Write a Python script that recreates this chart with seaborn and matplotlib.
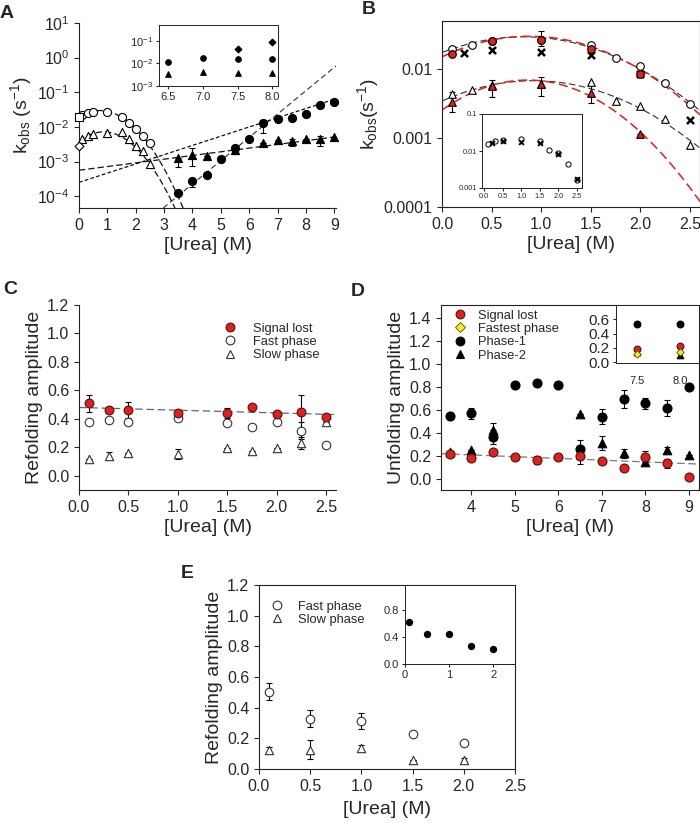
import numpy as np
import matplotlib
matplotlib.use("Agg")
import matplotlib.pyplot as plt
import seaborn as sns
from matplotlib.ticker import FixedLocator, NullLocator, LogFormatterMathtext, FormatStrFormatter
from matplotlib.lines import Line2D

# ---------------- data ----------------
# Panel A (kinetics, log scale)
a_fast_x = [0.1, 0.3, 0.5, 1.0, 1.5, 1.75, 2.0, 2.25, 2.5]
a_fast_y = [0.0216, 0.0245, 0.027, 0.027, 0.0198, 0.0133, 0.0089, 0.0055, 0.0034]
a_slow_x = [0.1, 0.3, 0.5, 1.0, 1.5, 1.75, 2.0, 2.25, 2.5]
a_slow_y = [0.0044, 0.0055, 0.0062, 0.0069, 0.0070, 0.0044, 0.0028, 0.0020, 0.00083]
a_square_x = [0.0]
a_square_y = [0.020]
a_diam_x = [0.0]
a_diam_y = [0.0029]
a_u1_x = [3.5, 4.0, 4.5, 5.0, 5.5, 6.0, 6.5, 7.0, 7.5, 8.0, 8.5, 9.0]
a_u1_y = [1.28e-4, 2.7e-4, 4.2e-4, 1.17e-3, 2.4e-3, 4.4e-3, 0.0126, 0.0173, 0.0185, 0.024, 0.042, 0.054]
a_u1_lo = [0, 0.8e-4, 0, 0, 0.7e-3, 0, 0.006, 0, 0.003, 0.003, 0, 0]
a_u1_hi = [0, 0, 0, 0, 0, 0, 0.003, 0, 0, 0, 0, 0]
a_u2_x = [3.5, 4.0, 4.5, 5.5, 6.5, 7.0, 7.5, 8.0, 8.5, 9.0]
a_u2_y = [1.24e-3, 1.6e-3, 1.42e-3, 2.1e-3, 3.5e-3, 4.2e-3, 3.8e-3, 4.4e-3, 4.4e-3, 5.1e-3]
a_u2_lo = [0.55e-3, 0.85e-3, 0, 0, 0, 0, 0.9e-3, 0, 1.5e-3, 0]
a_u2_hi = [0, 0.9e-3, 0, 0, 0, 0, 0.6e-3, 0, 1.0e-3, 0]
# fit curves (log10 k) anchors
a_fit_fast_x = [0.0, 1.0, 3.67]
a_fit_fast_logy = [-1.70, -1.55, -4.34]
a_fit_slow_x = [0.0, 1.0, 3.38]
a_fit_slow_logy = [-2.40, -2.15, -4.34]
a_line1_x = [0.0, 9.06]
a_line1_logy = [-3.25, -2.285]
a_line2_x = [0.0, 9.06]
a_line2_logy = [-3.60, -1.185]
a_line3_x = [2.97, 9.06]
a_line3_logy = [-4.34, -0.24]
# Panel A inset
ai_x = [6.5, 7.0, 7.5, 8.0]
ai_circ = [0.0118, 0.0166, 0.015, 0.0155]
ai_tri = [0.0034, 0.0043, 0.0039, 0.0036]
ai_dia_x = [7.5, 8.0]
ai_dia = [0.042, 0.09]

# Panel B
b_fast_x = [0.1, 0.3, 0.5, 1.0, 1.5, 1.75, 2.0, 2.25, 2.5]
b_fast_y = [0.0201, 0.023, 0.0257, 0.0266, 0.023, 0.0149, 0.0113, 0.0064, 0.0031]
b_red_x = [0.1, 0.5, 1.0, 1.5, 2.0]
b_red_y = [0.0165, 0.0257, 0.0272, 0.0197, 0.0087]
b_red_lo = [0, 0, 0.005, 0, 0]
b_red_hi = [0, 0, 0.0088, 0, 0]
b_cross_x = [0.22, 0.5, 1.0, 1.5, 2.0, 2.5]
b_cross_y = [0.0174, 0.019, 0.018, 0.0162, 0.0087, 0.00184]
b_slow_x = [0.1, 0.3, 0.5, 1.0, 1.5, 1.75, 2.0, 2.25, 2.5]
b_slow_y = [0.0044, 0.0050, 0.0059, 0.0062, 0.0066, 0.00347, 0.00297, 0.00188, 0.0008]
b_redtri_x = [0.1, 0.5, 1.0, 1.5, 2.0]
b_redtri_y = [0.0034, 0.0057, 0.0061, 0.0046, 0.00115]
b_redtri_lo = [0.0010, 0.0017, 0.0020, 0.0014, 0]
b_redtri_hi = [0.0013, 0.0013, 0.0017, 0.0013, 0]
b_fit_bf_x = [0.0, 0.887, 2.6]
b_fit_bf_logy = [-1.754, -1.527, -2.60]
b_fit_rf_x = [0.0, 0.86, 2.6]
b_fit_rf_logy = [-1.817, -1.518, -2.66]
b_fit_bs_x = [0.0, 0.97, 2.6]
b_fit_bs_logy = [-2.46, -2.165, -3.145]
b_fit_rs_x = [0.0, 0.89, 2.6]
b_fit_rs_logy = [-2.59, -2.155, -3.92]
# Panel B inset
bi_circ_x = [0.1, 0.3, 0.5, 1.0, 1.5, 1.75, 2.0, 2.25, 2.5]
bi_circ_y = [0.0156, 0.0188, 0.0197, 0.0205, 0.0185, 0.0109, 0.0088, 0.0045, 0.0016]
bi_cross_x = [0.22, 0.5, 1.0, 1.5, 2.0, 2.5]
bi_cross_y = [0.0166, 0.0192, 0.0177, 0.0166, 0.0085, 0.0017]

# Panel C
c_x = [0.1, 0.3, 0.5, 1.0, 1.5, 1.75, 2.0, 2.25, 2.5]
c_sig = [0.51, 0.46, 0.46, 0.44, 0.44, 0.48, 0.435, 0.45, 0.415]
c_sig_err = [0.06, 0.0, 0.055, 0.0, 0.035, 0.0, 0.0, 0.12, 0.0]
c_fast = [0.377, 0.393, 0.38, 0.407, 0.37, 0.346, 0.377, 0.316, 0.213]
c_fast_err = [0, 0, 0, 0, 0, 0, 0, 0.06, 0]
c_slow = [0.117, 0.14, 0.16, 0.155, 0.195, 0.175, 0.195, 0.23, 0.377]
c_slow_err = [0, 0.025, 0, 0.035, 0, 0, 0, 0.045, 0]
c_line_x = [0.0, 2.6]
c_line_y = [0.48, 0.43]

# Panel D
d_x = [3.5, 4.0, 4.5, 5.0, 5.5, 6.0, 6.5, 7.0, 7.5, 8.0, 8.5, 9.0]
d_sig = [0.214, 0.185, 0.234, 0.194, 0.165, 0.194, 0.20, 0.156, 0.093, 0.194, 0.136, 0.014]
d_sig_err = [0, 0.03, 0, 0, 0.035, 0, 0.07, 0, 0, 0.05, 0.04, 0]
d_p1 = [0.547, 0.57, 0.367, 0.816, 0.836, 0.816, 0.257, 0.541, 0.694, 0.657, 0.619, 0.801]
d_p1_err = [0, 0.05, 0.06, 0, 0, 0, 0.08, 0.065, 0.08, 0.05, 0.07, 0]
d_p2_x = [3.5, 4.0, 4.5, 6.5, 7.0, 7.5, 8.0, 8.5, 9.0]
d_p2 = [0.237, 0.252, 0.425, 0.561, 0.315, 0.223, 0.15, 0.252, 0.208]
d_p2_err = [0, 0, 0.06, 0, 0.06, 0.04, 0.03, 0.03, 0]
d_line_x = [3.3, 9.23]
d_line_y = [0.22, 0.13]
# Panel D inset
di_x = [7.5, 8.0]
di_p1 = [0.53, 0.54]
di_p2 = [0.15, 0.10]
di_sig = [0.19, 0.225]
di_fast = [0.12, 0.14]

# Panel E
e_x = [0.1, 0.5, 1.0, 1.5, 2.0]
e_fast = [0.503, 0.329, 0.312, 0.227, 0.17]
e_fast_err = [0.055, 0.055, 0.05, 0, 0.02]
e_slow = [0.122, 0.126, 0.14, 0.061, 0.061]
e_slow_err = [0.02, 0.06, 0.015, 0, 0.01]
ei_x = [0.1, 0.5, 1.0, 1.5, 2.0]
ei_y = [0.62, 0.445, 0.445, 0.274, 0.22]

# ---------------- style ----------------
sns.set_theme(style="ticks")
plt.rcParams['font.family'] = ['Liberation Sans', 'DejaVu Sans']
plt.rcParams['mathtext.fontset'] = 'custom'
plt.rcParams['mathtext.rm'] = 'Liberation Sans'
plt.rcParams['mathtext.it'] = 'Liberation Sans:italic'
plt.rcParams['mathtext.default'] = 'regular'
plt.rcParams['axes.linewidth'] = 0.8
plt.rcParams['xtick.major.width'] = 0.8
plt.rcParams['ytick.major.width'] = 0.8
plt.rcParams['xtick.major.size'] = 3.5
plt.rcParams['ytick.major.size'] = 3.5
plt.rcParams['axes.edgecolor'] = '#222222'

RED = '#e0201b'
YEL = '#f2ee1e'
W, H = 700, 823
fig = plt.figure(figsize=(7.0, 8.23), dpi=100)


def add_ax(l, t, r, b):
    return fig.add_axes([l / W, 1 - b / H, (r - l) / W, (b - t) / H])


def pts(ax, x, y, marker, face, s, edge='black', lw=0.8, z=3):
    sns.scatterplot(x=np.asarray(x, float), y=np.asarray(y, float), ax=ax, marker=marker, s=s,
                    color=face, edgecolor=edge, linewidth=lw, zorder=z, legend=False, clip_on=False)


def err(ax, x, y, e, lw=0.8, cap=2.0):
    ax.errorbar(x, y, yerr=e, fmt='none', ecolor='black', elinewidth=lw, capsize=cap,
                capthick=lw, zorder=2)


def logfit(ax, ax_x, ax_logy, x0, x1, color, dashes, lw=0.9, z=1):
    coef = np.polyfit(ax_x, ax_logy, len(ax_x) - 1)
    xs = np.linspace(x0, x1, 300)
    ax.plot(xs, 10 ** np.polyval(coef, xs), color=color, lw=lw, dashes=dashes, zorder=z)


def lin(ax, lx, ly, color, dashes, lw=0.9):
    ax.plot(lx, ly, color=color, lw=lw, dashes=dashes, zorder=1)


TICK_FS = 11.5
LAB_FS = 14
LEG_FS = 9.3

# ---------------- Panel A ----------------
axA = add_ax(79, 23, 336, 208)
axA.set_yscale('log')
logfit(axA, a_fit_fast_x, a_fit_fast_logy, 0, 3.9, '#111111', (5, 2.5))
logfit(axA, a_fit_slow_x, a_fit_slow_logy, 0, 3.6, '#111111', (5, 2.5))
logfit(axA, a_line1_x, a_line1_logy, 0, 9.06, '#111111', (5, 2.5))
logfit(axA, a_line2_x, a_line2_logy, 0, 9.06, '#111111', (3, 1.8))
logfit(axA, a_line3_x, a_line3_logy, 2.97, 9.06, '#333333', (5, 3), lw=0.8)
err(axA, a_u1_x, a_u1_y, [a_u1_lo, a_u1_hi])
err(axA, a_u2_x, a_u2_y, [a_u2_lo, a_u2_hi])
pts(axA, a_fast_x, a_fast_y, 'o', 'white', 34)
pts(axA, a_slow_x, a_slow_y, '^', 'white', 34)
pts(axA, a_square_x, a_square_y, 's', 'white', 26)
pts(axA, a_diam_x, a_diam_y, 'D', 'white', 20)
pts(axA, a_u2_x, a_u2_y, '^', 'black', 34)
pts(axA, a_u1_x, a_u1_y, 'o', 'black', 34)
axA.set_xlim(0, 9.06)
axA.set_ylim(10 ** -4.34, 10)
axA.xaxis.set_major_locator(FixedLocator(range(0, 10)))
axA.yaxis.set_major_locator(FixedLocator([1e-4, 1e-3, 1e-2, 1e-1, 1, 10]))
axA.yaxis.set_major_formatter(LogFormatterMathtext())
axA.yaxis.set_minor_locator(NullLocator())
axA.tick_params(labelsize=TICK_FS)
axA.set_xlabel('[Urea] (M)', fontsize=LAB_FS, labelpad=3)
axA.set_ylabel('k$_{obs}$ (s$^{-1}$)', fontsize=LAB_FS, labelpad=2)
sns.despine(ax=axA)

# A inset
axAi = add_ax(159, 25, 278, 86)
axAi.set_yscale('log')
pts(axAi, ai_x, ai_tri, '^', 'black', 16)
pts(axAi, ai_x, ai_circ, 'o', 'black', 16)
pts(axAi, ai_dia_x, ai_dia, 'D', 'black', 12)
axAi.set_xlim(6.37, 8.08)
axAi.set_ylim(1e-3, 0.5)
axAi.xaxis.set_major_locator(FixedLocator([6.5, 7.0, 7.5, 8.0]))
axAi.xaxis.set_major_formatter(FormatStrFormatter('%.1f'))
axAi.yaxis.set_major_locator(FixedLocator([1e-3, 1e-2, 1e-1]))
axAi.yaxis.set_major_formatter(LogFormatterMathtext())
axAi.yaxis.set_minor_locator(NullLocator())
axAi.tick_params(labelsize=8, length=2.5, pad=2)
for s in axAi.spines.values():
    s.set_linewidth(0.7)

# ---------------- Panel B ----------------
axB = add_ax(442, 21, 700, 207)
axB.set_yscale('log')
logfit(axB, b_fit_bf_x, b_fit_bf_logy, 0, 2.6, '#333333', (6, 3), lw=0.8)
logfit(axB, b_fit_bs_x, b_fit_bs_logy, 0, 2.6, '#333333', (6, 3), lw=0.8)
logfit(axB, b_fit_rf_x, b_fit_rf_logy, 0, 2.6, RED, (6, 3), lw=1.1)
logfit(axB, b_fit_rs_x, b_fit_rs_logy, 0, 2.6, RED, (6, 3), lw=1.1)
err(axB, b_red_x, b_red_y, [b_red_lo, b_red_hi])
err(axB, b_redtri_x, b_redtri_y, [b_redtri_lo, b_redtri_hi])
pts(axB, b_fast_x, b_fast_y, 'o', 'white', 30)
pts(axB, b_slow_x, b_slow_y, '^', 'white', 30)
pts(axB, b_cross_x, b_cross_y, 'x', 'black', 26, lw=1.8)
pts(axB, b_red_x, b_red_y, 'o', RED, 30)
pts(axB, b_redtri_x, b_redtri_y, '^', RED, 30)
axB.set_xlim(0, 2.6)
axB.set_ylim(1e-4, 0.0506)
axB.xaxis.set_major_locator(FixedLocator([0, 0.5, 1.0, 1.5, 2.0, 2.5]))
axB.xaxis.set_major_formatter(FormatStrFormatter('%.1f'))
axB.yaxis.set_major_locator(FixedLocator([1e-4, 1e-3, 1e-2]))
axB.yaxis.set_minor_locator(NullLocator())
axB.set_yticklabels(['0.0001', '0.001', '0.01'])
axB.tick_params(labelsize=TICK_FS)
axB.set_xlabel('[Urea] (M)', fontsize=LAB_FS, labelpad=3)
axB.set_ylabel('k$_{obs}$(s$^{-1}$)', fontsize=LAB_FS, labelpad=2)

# B inset
axBi = add_ax(482, 114, 582, 188)
axBi.set_yscale('log')
pts(axBi, bi_circ_x, bi_circ_y, 'o', 'white', 14, lw=0.7)
pts(axBi, bi_cross_x, bi_cross_y, 'x', 'black', 12, lw=1.4)
axBi.set_xlim(-0.06, 2.64)
axBi.set_ylim(1e-3, 0.1)
axBi.xaxis.set_major_locator(FixedLocator([0, 0.5, 1.0, 1.5, 2.0, 2.5]))
axBi.xaxis.set_major_formatter(FormatStrFormatter('%.1f'))
axBi.yaxis.set_major_locator(FixedLocator([1e-3, 1e-2, 1e-1]))
axBi.yaxis.set_minor_locator(NullLocator())
axBi.set_yticklabels(['0.001', '0.01', '0.1'])
axBi.tick_params(labelsize=5.3, length=2, pad=1.5)
for s in axBi.spines.values():
    s.set_linewidth(0.7)

# ---------------- Panel C ----------------
axC = add_ax(79, 305, 336, 490)
lin(axC, c_line_x, c_line_y, '#666666', (6, 3))
err(axC, c_x, c_sig, c_sig_err)
err(axC, c_x, c_fast, c_fast_err)
err(axC, c_x, c_slow, c_slow_err)
pts(axC, c_x, c_slow, '^', 'white', 36, edge='#333333')
pts(axC, c_x, c_fast, 'o', 'white', 38, edge='#333333')
pts(axC, c_x, c_sig, 'o', RED, 40, edge='#551111')
axC.set_xlim(0, 2.6)
axC.set_ylim(-0.1, 1.2)
axC.xaxis.set_major_locator(FixedLocator([0, 0.5, 1.0, 1.5, 2.0, 2.5]))
axC.xaxis.set_major_formatter(FormatStrFormatter('%.1f'))
axC.yaxis.set_major_locator(FixedLocator([0, 0.2, 0.4, 0.6, 0.8, 1.0, 1.2]))
axC.yaxis.set_major_formatter(FormatStrFormatter('%.1f'))
axC.tick_params(labelsize=TICK_FS)
axC.set_xlabel('[Urea] (M)', fontsize=LAB_FS, labelpad=3)
axC.set_ylabel('Refolding amplitude', fontsize=LAB_FS, labelpad=3)
sns.despine(ax=axC)
hC = [Line2D([], [], ls='none', marker='o', ms=6.3, mfc=RED, mec='#551111', mew=0.8),
      Line2D([], [], ls='none', marker='o', ms=6.3, mfc='white', mec='#333333', mew=0.8),
      Line2D([], [], ls='none', marker='^', ms=6.3, mfc='white', mec='#333333', mew=0.8)]
axC.legend(hC, ['Signal lost', 'Fast phase', 'Slow phase'], loc='upper left',
           bbox_to_anchor=(0.55, 0.905), frameon=False, fontsize=LEG_FS, handletextpad=1.05,
           labelspacing=0.1, borderpad=0, borderaxespad=0, handlelength=1.5)

# ---------------- Panel D ----------------
axD = add_ax(441, 305, 699, 490)
lin(axD, d_line_x, d_line_y, '#777777', (6, 3))
err(axD, d_x, d_sig, d_sig_err)
err(axD, d_x, d_p1, d_p1_err)
err(axD, d_p2_x, d_p2, d_p2_err)
pts(axD, d_p2_x, d_p2, '^', 'black', 38)
pts(axD, d_x, d_p1, 'o', 'black', 42)
pts(axD, d_x, d_sig, 'o', RED, 42, edge='#551111')
axD.set_xlim(3.3, 9.23)
axD.set_ylim(-0.095, 1.51)
axD.xaxis.set_major_locator(FixedLocator([4, 5, 6, 7, 8, 9]))
axD.yaxis.set_major_locator(FixedLocator([0, 0.2, 0.4, 0.6, 0.8, 1.0, 1.2, 1.4]))
axD.yaxis.set_major_formatter(FormatStrFormatter('%.1f'))
axD.tick_params(labelsize=TICK_FS)
axD.set_xlabel('[Urea] (M)', fontsize=LAB_FS, labelpad=3)
axD.set_ylabel('Unfolding amplitude', fontsize=LAB_FS, labelpad=3)
hD = [Line2D([], [], ls='none', marker='o', ms=6.3, mfc=RED, mec='#551111', mew=0.8),
      Line2D([], [], ls='none', marker='D', ms=5, mfc=YEL, mec='#555500', mew=0.6),
      Line2D([], [], ls='none', marker='o', ms=6.3, mfc='black', mec='black', mew=0.8),
      Line2D([], [], ls='none', marker='^', ms=6.3, mfc='black', mec='black', mew=0.8)]
axD.legend(hD, ['Signal lost', 'Fastest phase', 'Phase-1', 'Phase-2'], loc='upper left',
           bbox_to_anchor=(0.036, 0.975), frameon=False, fontsize=LEG_FS, handletextpad=0.65,
           labelspacing=0.1, borderpad=0, borderaxespad=0, handlelength=1.5)

# D inset
axDi = add_ax(616, 305, 699, 363)
pts(axDi, di_x, di_p1, 'o', 'black', 24)
pts(axDi, di_x, di_p2, '^', 'black', 22)
pts(axDi, di_x, di_sig, 'o', RED, 24, edge='#551111')
pts(axDi, di_x, di_fast, 'D', YEL, 14, edge='#555500', lw=0.6)
axDi.set_xlim(7.26, 8.22)
axDi.set_ylim(-0.01, 0.8)
axDi.xaxis.set_major_locator(FixedLocator([7.5, 8.0]))
axDi.xaxis.set_major_formatter(FormatStrFormatter('%.1f'))
axDi.yaxis.set_major_locator(FixedLocator([0, 0.2, 0.4, 0.6]))
axDi.yaxis.set_major_formatter(FormatStrFormatter('%.1f'))
axDi.tick_params(axis='y', labelsize=11, length=2.5, pad=2)
axDi.tick_params(axis='x', labelsize=8, length=0, pad=9)
for s in axDi.spines.values():
    s.set_linewidth(0.7)

# ---------------- Panel E ----------------
axE = add_ax(259, 585, 515, 769)
err(axE, e_x, e_fast, e_fast_err)
err(axE, e_x, e_slow, e_slow_err)
pts(axE, e_x, e_slow, '^', 'white', 36, edge='#333333')
pts(axE, e_x, e_fast, 'o', 'white', 38, edge='#333333')
axE.set_xlim(0, 2.5)
axE.set_ylim(0, 1.2)
axE.xaxis.set_major_locator(FixedLocator([0, 0.5, 1.0, 1.5, 2.0, 2.5]))
axE.xaxis.set_major_formatter(FormatStrFormatter('%.1f'))
axE.yaxis.set_major_locator(FixedLocator([0, 0.2, 0.4, 0.6, 0.8, 1.0, 1.2]))
axE.yaxis.set_major_formatter(FormatStrFormatter('%.1f'))
axE.tick_params(labelsize=TICK_FS)
axE.set_xlabel('[Urea] (M)', fontsize=LAB_FS, labelpad=5)
axE.set_ylabel('Refolding amplitude', fontsize=LAB_FS, labelpad=3)
hE = [Line2D([], [], ls='none', marker='o', ms=6.3, mfc='white', mec='#333333', mew=0.8),
      Line2D([], [], ls='none', marker='^', ms=6.3, mfc='white', mec='#333333', mew=0.8)]
axE.legend(hE, ['Fast phase', 'Slow phase'], loc='upper left',
           bbox_to_anchor=(0.031, 0.915), frameon=False, fontsize=LEG_FS, handletextpad=0.93,
           labelspacing=0.1, borderpad=0, borderaxespad=0, handlelength=1.5)

# E inset
axEi = add_ax(405, 585, 515, 664)
pts(axEi, ei_x, ei_y, 'o', 'black', 20)
axEi.set_xlim(0, 2.49)
axEi.set_ylim(0, 1.18)
axEi.xaxis.set_major_locator(FixedLocator([0, 1, 2]))
axEi.yaxis.set_major_locator(FixedLocator([0, 0.4, 0.8]))
axEi.yaxis.set_major_formatter(FormatStrFormatter('%.1f'))
axEi.tick_params(labelsize=8, length=2.5, pad=2)
for s in axEi.spines.values():
    s.set_linewidth(0.7)

# panel letters
for lab, (px, py) in {'A': (7, 13), 'B': (369, 10), 'C': (10, 290), 'D': (358, 292), 'E': (187, 573)}.items():
    fig.text(px / W, 1 - py / H, lab, fontsize=14, fontweight='bold', ha='center', va='center')

fig.savefig('out.png', dpi=100)
